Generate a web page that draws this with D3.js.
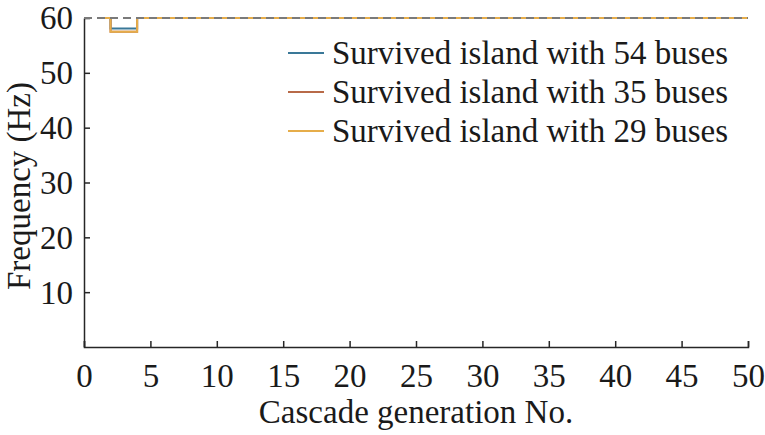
<!DOCTYPE html>
<html>
<head>
<meta charset="utf-8">
<script src="https://cdn.jsdelivr.net/npm/d3@7"></script>
<style>
  body { margin: 0; background: #fff; }
</style>
</head>
<body>
<div id="chart"></div>
<script>
// cascade generations and frequency of each island (Hz)
var generations = [1, 2, 3, 4, 50];
var freq54 = [60, 58.1, 58.1, 60, 60];
var freq35 = [60, 57.5, 57.5, 60, 60];
var freq29 = [60, 57.5, 57.5, 60, 60];
var nominal = 60;

var seriesNames = ["Survived island with 54 buses", "Survived island with 35 buses", "Survived island with 29 buses"];
var seriesColors = ["#3a7898", "#b86a48", "#e6ad4a"];

var xTicks = [0, 5, 10, 15, 20, 25, 30, 35, 40, 45, 50];
var yTicks = [10, 20, 30, 40, 50, 60];

var W = 765, H = 435;
var margin = {top: 18, right: 17, bottom: 88, left: 84},
    width = W - margin.left - margin.right,
    height = H - margin.top - margin.bottom;

var FONT = "Liberation Serif";
var fs = 33;

var svg = d3.select("#chart").append("svg")
    .attr("width", W).attr("height", H)
    .append("g")
    .attr("transform", "translate(" + margin.left + "," + margin.top + ")");

var x = d3.scaleLinear().domain([0, 50]).range([0, width]);
var y = d3.scaleLinear().domain([0, 60]).range([height, 0]);

// axes, ticks pointing inward
var xAxis = svg.append("g")
    .attr("transform", "translate(0," + height + ")")
    .call(d3.axisBottom(x).tickValues(xTicks).tickSizeInner(-6).tickSizeOuter(-6));
var yAxis = svg.append("g")
    .call(d3.axisLeft(y).tickValues(yTicks).tickSizeInner(-6).tickSizeOuter(0));

[xAxis, yAxis].forEach(function(a){
  a.select(".domain").attr("stroke", "#262626").attr("stroke-width", 1.5);
  a.selectAll(".tick line").attr("stroke", "#262626").attr("stroke-width", 1.5);
  a.selectAll(".tick text").attr("font-size", fs).attr("fill", "#1a1a1a")
    .style("font-family", FONT);
});
xAxis.selectAll(".tick text").attr("y", 40).attr("dy", 0);
yAxis.selectAll(".tick text").attr("x", -11).attr("dy", "0.33em");

var line = d3.line()
    .curve(d3.curveStepAfter)
    .x(function(d){ return x(d[0]); })
    .y(function(d){ return y(d[1]); });

[freq54, freq35, freq29].forEach(function(vals, i){
  svg.append("path")
    .datum(generations.map(function(g, j){ return [g, vals[j]]; }))
    .attr("fill", "none")
    .attr("stroke", seriesColors[i])
    .attr("stroke-width", 2)
    .attr("d", line);
});

// nominal frequency reference
svg.append("line")
  .attr("x1", x(0)).attr("x2", x(50))
  .attr("y1", y(nominal)).attr("y2", y(nominal))
  .attr("stroke", "#7a7a7a")
  .attr("stroke-width", 2)
  .attr("stroke-dasharray", "8,5");

// legend
var legend = svg.append("g").attr("transform", "translate(" + (288 - margin.left) + "," + (53 - margin.top) + ")");
seriesNames.forEach(function(name, i){
  var row = legend.append("g").attr("transform", "translate(0," + (i * 39) + ")");
  row.append("line").attr("x1", 0).attr("x2", 36).attr("y1", 0).attr("y2", 0)
    .attr("stroke", seriesColors[i]).attr("stroke-width", 2);
  row.append("text").attr("x", 44).attr("y", 0).attr("dy", "0.33em")
    .attr("font-size", fs).attr("fill", "#1a1a1a").style("font-family", FONT)
    .text(name);
});

// axis titles
svg.append("text")
  .attr("x", width / 2).attr("y", 423 - margin.top)
  .attr("text-anchor", "middle").attr("font-size", fs)
  .attr("fill", "#1a1a1a").style("font-family", FONT)
  .text("Cascade generation No.");

svg.append("text")
  .attr("transform", "translate(" + (30 - margin.left) + "," + (186 - margin.top) + ") rotate(-90)")
  .attr("text-anchor", "middle").attr("font-size", fs)
  .attr("fill", "#1a1a1a").style("font-family", FONT)
  .text("Frequency (Hz)");
</script>
</body>
</html>
